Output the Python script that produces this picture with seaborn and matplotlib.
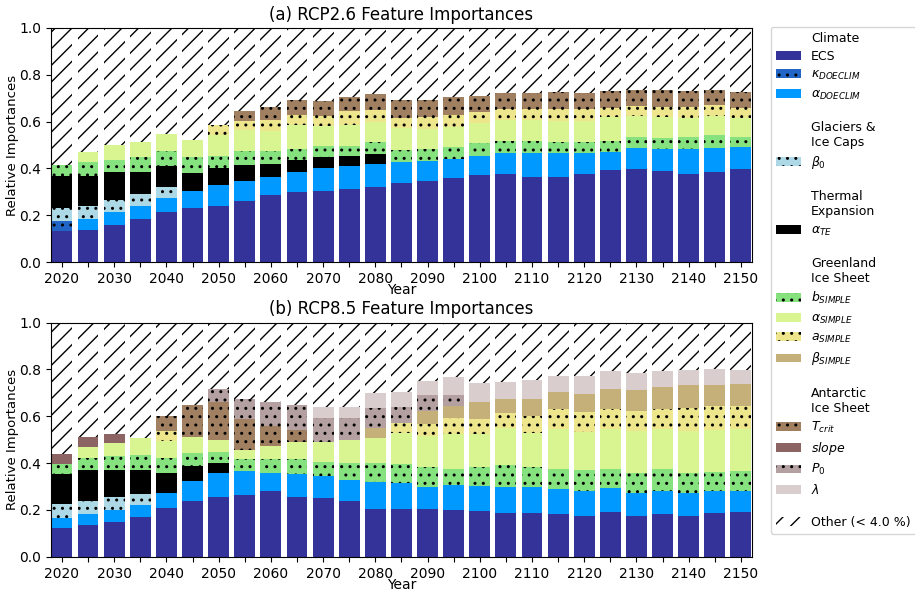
import numpy as np
import pandas as pd
import matplotlib
matplotlib.use("Agg")
import matplotlib.pyplot as plt
from matplotlib.patches import Patch
import seaborn as sns

years = list(range(2020, 2155, 5))

# ---- RCP2.6 feature importances (segment heights, 0 = below threshold) ----
rcp26 = {
    "ECS":      [0.132, 0.139, 0.158, 0.182, 0.216, 0.232, 0.239, 0.263, 0.286, 0.300, 0.303, 0.313, 0.321, 0.338,
                 0.347, 0.358, 0.370, 0.378, 0.364, 0.364, 0.376, 0.393, 0.397, 0.389, 0.377, 0.383, 0.397],
    "kappa":    [0.042, 0, 0, 0, 0, 0, 0, 0, 0, 0, 0, 0, 0, 0, 0, 0, 0, 0, 0, 0, 0, 0, 0, 0, 0, 0, 0],
    "alpha_D":  [0, 0.046, 0.058, 0.057, 0.059, 0.071, 0.090, 0.084, 0.077, 0.085, 0.097, 0.097, 0.097, 0.090,
                 0.085, 0.083, 0.083, 0.087, 0.100, 0.101, 0.091, 0.078, 0.090, 0.093, 0.105, 0.106, 0.094],
    "beta0":    [0.056, 0.053, 0.051, 0.050, 0.045, 0, 0, 0, 0, 0, 0, 0, 0, 0, 0, 0, 0, 0, 0, 0, 0, 0, 0, 0, 0, 0, 0],
    "alpha_TE": [0.136, 0.130, 0.116, 0.096, 0.091, 0.078, 0.071, 0.066, 0.057, 0.049, 0.048, 0.041, 0.043, 0,
                 0, 0, 0, 0, 0, 0, 0, 0, 0, 0, 0, 0, 0],
    "b_S":      [0.047, 0.059, 0.055, 0.062, 0.064, 0.066, 0.055, 0.061, 0.054, 0.051, 0.048, 0.045, 0.050, 0.051,
                 0.050, 0.050, 0.054, 0.054, 0.051, 0.047, 0.044, 0.048, 0.045, 0.047, 0.050, 0.052, 0.045],
    "alpha_S":  [0, 0.042, 0.060, 0.064, 0.070, 0.076, 0.086, 0.088, 0.084, 0.102, 0.087, 0.090, 0.086, 0.093,
                 0.087, 0.085, 0.086, 0.086, 0.090, 0.091, 0.092, 0.101, 0.091, 0.091, 0.085, 0.083, 0.080],
    "a_S":      [0, 0, 0, 0, 0, 0, 0.046, 0.040, 0.047, 0.042, 0.040, 0.058, 0.053, 0.045,
                 0.050, 0.054, 0.046, 0.049, 0.049, 0.051, 0.050, 0.040, 0.044, 0.043, 0.044, 0.046, 0.043],
    "beta_S":   [0] * 27,
    "T_crit":   [0, 0, 0, 0, 0, 0, 0, 0.045, 0.058, 0.061, 0.064, 0.063, 0.066, 0.073,
                 0.074, 0.077, 0.071, 0.070, 0.070, 0.073, 0.069, 0.071, 0.067, 0.071, 0.070, 0.064, 0.066],
    "slope":    [0] * 27,
    "P0":       [0] * 27,
    "lambda":   [0] * 27,
}

# ---- RCP8.5 feature importances ----
rcp85 = {
    "ECS":      [0.122, 0.135, 0.149, 0.168, 0.209, 0.239, 0.255, 0.265, 0.283, 0.255, 0.252, 0.238, 0.203, 0.205,
                 0.203, 0.199, 0.196, 0.188, 0.185, 0.181, 0.176, 0.193, 0.175, 0.183, 0.176, 0.185, 0.192],
    "kappa":    [0] * 27,
    "alpha_D":  [0.043, 0.046, 0.050, 0.054, 0.063, 0.085, 0.101, 0.102, 0.077, 0.098, 0.095, 0.089, 0.116, 0.111,
                 0.097, 0.107, 0.107, 0.108, 0.111, 0.108, 0.107, 0.100, 0.098, 0.097, 0.097, 0.097, 0.088],
    "beta0":    [0.061, 0.059, 0.056, 0.048, 0, 0, 0, 0, 0, 0, 0, 0, 0, 0, 0, 0, 0, 0, 0, 0, 0, 0, 0, 0, 0, 0, 0],
    "alpha_TE": [0.127, 0.130, 0.116, 0.101, 0.086, 0.063, 0.044, 0, 0, 0, 0, 0, 0, 0,
                 0, 0, 0, 0, 0, 0, 0, 0, 0, 0, 0, 0, 0],
    "b_S":      [0.044, 0.054, 0.061, 0.063, 0.062, 0.055, 0.049, 0.050, 0.057, 0.064, 0.058, 0.073, 0.081, 0.082,
                 0.083, 0.071, 0.081, 0.097, 0.087, 0.084, 0.087, 0.084, 0.085, 0.095, 0.087, 0.081, 0.087],
    "alpha_S":  [0, 0.047, 0.053, 0.075, 0.075, 0.070, 0.049, 0.041, 0.057, 0.074, 0.084, 0.098, 0.108, 0.130,
                 0.132, 0.148, 0.142, 0.156, 0.145, 0.172, 0.161, 0.168, 0.181, 0.170, 0.179, 0.178, 0.179],
    "a_S":      [0, 0, 0, 0, 0.043, 0, 0, 0, 0, 0, 0, 0, 0, 0.044,
                 0.054, 0.067, 0.061, 0.066, 0.074, 0.084, 0.086, 0.087, 0.083, 0.087, 0.095, 0.105, 0.097],
    "beta_S":   [0, 0, 0, 0, 0, 0, 0, 0, 0, 0, 0, 0, 0.044, 0,
                 0.055, 0.052, 0.074, 0.058, 0.071, 0.075, 0.079, 0.086, 0.091, 0.095, 0.099, 0.088, 0.095],
    "T_crit":   [0, 0, 0, 0, 0.065, 0.137, 0.161, 0.131, 0.086, 0.051, 0, 0, 0, 0,
                 0, 0, 0, 0, 0, 0, 0, 0, 0, 0, 0, 0, 0],
    "slope":    [0.040, 0.041, 0.040, 0, 0, 0, 0, 0, 0, 0, 0, 0, 0, 0, 0, 0, 0, 0, 0, 0, 0, 0, 0, 0, 0, 0, 0],
    "P0":       [0, 0, 0, 0, 0, 0, 0.058, 0.084, 0.100, 0.105, 0.103, 0.094, 0.085, 0.067,
                 0.066, 0.046, 0, 0, 0, 0, 0, 0, 0, 0, 0, 0, 0],
    "lambda":   [0, 0, 0, 0, 0, 0, 0, 0, 0, 0, 0.047, 0.047, 0.061, 0.065,
                 0.062, 0.077, 0.080, 0.074, 0.082, 0.067, 0.074, 0.074, 0.072, 0.068, 0.065, 0.067, 0.061],
}

features = ["ECS", "kappa", "alpha_D", "beta0", "alpha_TE", "b_S", "alpha_S", "a_S", "beta_S",
            "T_crit", "slope", "P0", "lambda"]
labels = {
    "ECS": "ECS", "kappa": r"$\kappa_{DOECLIM}$", "alpha_D": r"$\alpha_{DOECLIM}$",
    "beta0": r"$\beta_0$", "alpha_TE": r"$\alpha_{TE}$", "b_S": r"$b_{SIMPLE}$",
    "alpha_S": r"$\alpha_{SIMPLE}$", "a_S": r"$a_{SIMPLE}$", "beta_S": r"$\beta_{SIMPLE}$",
    "T_crit": r"$T_{crit}$", "slope": r"$slope$", "P0": r"$P_0$", "lambda": r"$\lambda$",
}
colors = {
    "ECS": "#333399", "kappa": "#2166c6", "alpha_D": "#0099ff", "beta0": "#add8e6",
    "alpha_TE": "#000000", "b_S": "#86e27e", "alpha_S": "#d9f591", "a_S": "#eee68c",
    "beta_S": "#c4b078", "T_crit": "#a08060", "slope": "#8c6464", "P0": "#b4a0a0",
    "lambda": "#dacdcd",
}
hatches = {
    "ECS": None, "kappa": "..", "alpha_D": None, "beta0": "..", "alpha_TE": None,
    "b_S": "..", "alpha_S": None, "a_S": "..", "beta_S": None, "T_crit": "..",
    "slope": None, "P0": "..", "lambda": None,
}

plt.rcParams["hatch.linewidth"] = 1.0

fig = plt.figure(figsize=(9.15, 5.93), dpi=100)
ax_a = fig.add_axes([0.0557, 0.558, 0.766, 0.395])
ax_b = fig.add_axes([0.0557, 0.061, 0.766, 0.395])


def draw_panel(ax, data, title):
    df = pd.DataFrame(data)
    df["Year"] = years
    cum = df[features].cumsum(axis=1)
    # "Other" fills the remainder up to 1
    sns.barplot(x=df["Year"], y=np.ones(len(years)), native_scale=True, color="white",
                saturation=1, hatch="//", edgecolor="black", linewidth=0,
                errorbar=None, ax=ax)
    # stacked segments: draw cumulative tops from the highest layer downwards;
    # absent segments get a zero-height bar so every year keeps its slot
    for f in reversed(features):
        if not (df[f] > 0).any():
            continue
        tops = cum[f].where(df[f] > 0, 0.0)
        sns.barplot(x=df["Year"], y=tops, native_scale=True,
                    color=colors[f], saturation=1, hatch=hatches[f],
                    edgecolor="black", linewidth=0, errorbar=None, ax=ax)
    ax.set_xlim(2017.9, 2152.1)
    ax.set_ylim(0, 1.0)
    ax.set_xticks(years)
    ax.set_xticklabels([str(y) if y % 10 == 0 else "" for y in years], fontsize=10)
    ax.set_yticks(np.arange(0, 1.01, 0.2))
    ax.set_yticklabels([f"{v:.1f}" for v in np.arange(0, 1.01, 0.2)], fontsize=10)
    ax.set_xlabel("Year", fontsize=10, labelpad=-2)
    ax.set_ylabel("Relative Importances", fontsize=9.5, labelpad=0)
    ax.set_title(title, fontsize=12, pad=6)


draw_panel(ax_a, rcp26, "(a) RCP2.6 Feature Importances")
draw_panel(ax_b, rcp85, "(b) RCP8.5 Feature Importances")

# grouped legend
blank = Patch(facecolor="none", edgecolor="none")


def item(f):
    return Patch(facecolor=colors[f], hatch=hatches[f], edgecolor="black", linewidth=0)


groups = [
    ("Climate", ["ECS", "kappa", "alpha_D"]),
    ("Glaciers &\nIce Caps", ["beta0"]),
    ("Thermal\nExpansion", ["alpha_TE"]),
    ("Greenland\nIce Sheet", ["b_S", "alpha_S", "a_S", "beta_S"]),
    ("Antarctic\nIce Sheet", ["T_crit", "slope", "P0", "lambda"]),
]
handles, names = [], []
spacer_rows = []
for i, (head, members) in enumerate(groups):
    if i > 0:
        spacer_rows.append(len(names))
        handles.append(blank)
        names.append("")
    handles.append(blank)
    names.append(head)
    for f in members:
        handles.append(item(f))
        names.append(labels[f])
spacer_rows.append(len(names))
handles.append(blank)
names.append("")
handles.append(Patch(facecolor="white", hatch="//", edgecolor="black", linewidth=0))
names.append("Other (< 4.0 %)")

leg = fig.legend(handles, names, loc="upper left", bbox_to_anchor=(0.8426, 0.955),
                 borderaxespad=0, fontsize=9, labelspacing=0.42, frameon=True)
# spacer rows between groups only need the height of the handle box
for r in spacer_rows:
    leg.get_texts()[r].set_fontsize(1)

fig.savefig("out.png", dpi=100)
